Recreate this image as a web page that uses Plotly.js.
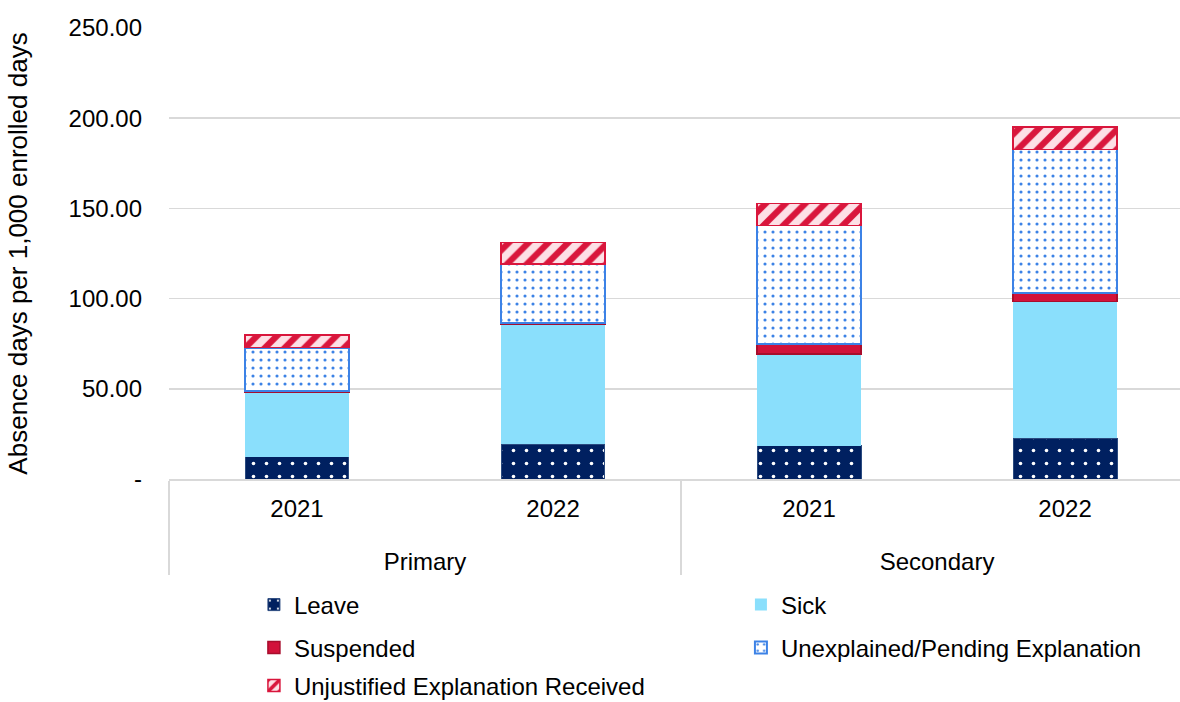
<!DOCTYPE html>
<html>
<head>
<meta charset="utf-8">
<script src="https://cdn.plot.ly/plotly-3.0.1.min.js"></script>
<style>html,body{margin:0;padding:0;background:#fff;}#chart{width:1180px;height:702px;}</style>
</head>
<body>
<div id="chart"></div>
<script>
// Data
const schoolLevels = ['Primary', 'Primary', 'Secondary', 'Secondary'];
const years = ['2021', '2022', '2021', '2022'];
const leave = [12.4, 19.2, 18.3, 22.5];
const sick = [35.6, 66.6, 51.0, 75.8];
const suspended = [0.8, 0.7, 5.5, 5.0];
const unexplained = [24.0, 32.7, 65.8, 79.4];
const unjustified = [7.0, 11.8, 12.2, 12.3];
const yTickVals = [0, 50, 100, 150, 200, 250];
const yTickText = ['-', '50.00', '100.00', '150.00', '200.00', '250.00'];

const FONT = 'Liberation Sans, Arial, sans-serif';
// leading line break pushes the group labels one line lower, as in the reference
const x = [schoolLevels.map(s => '<br>' + s), years];

const traces = [
  {name: 'Leave', y: leave, legend: 'legend',
   marker: {color: '#002060', line: {color: '#2a4a7f', width: 1},
            pattern: {shape: '.', fgcolor: '#ffffff', bgcolor: '#002060', size: 13, solidity: 0.06}}},
  {name: 'Sick', y: sick, legend: 'legend',
   marker: {color: '#8ADFFC', line: {color: '#8ADFFC', width: 0}}},
  {name: 'Suspended', y: suspended, legend: 'legend2',
   marker: {color: '#D2123A', line: {color: '#A80D2C', width: 1.5}}},
  {name: 'Unexplained/Pending Explanation', y: unexplained, legend: 'legend2',
   marker: {color: '#3C82E6', line: {color: '#3C82E6', width: 2},
            pattern: {shape: '.', fgcolor: '#3C82E6', bgcolor: '#ffffff', size: 8, solidity: 0.12}}},
  {name: 'Unjustified Explanation Received', y: unjustified, legend: 'legend3',
   marker: {color: '#D9163C', line: {color: '#D9163C', width: 1.5},
            pattern: {shape: '/', fgcolor: '#D9163C', bgcolor: '#FDE0E6', size: 14, solidity: 0.45}}}
].map(t => Object.assign({type: 'bar', x: x, hoverinfo: 'y+name'}, t));

const legendBase = {
  orientation: 'h', traceorder: 'normal', xref: 'paper', yref: 'paper', x: 0.084, xanchor: 'left', yanchor: 'middle',
  entrywidth: 442, entrywidthmode: 'pixels', itemwidth: 30,
  font: {family: FONT, size: 24, color: '#000'}, bgcolor: 'rgba(0,0,0,0)'
};

const layout = {
  width: 1180, height: 702,
  paper_bgcolor: '#fff', plot_bgcolor: '#fff',
  barmode: 'stack', bargap: 0.594,
  margin: {l: 169, r: 0, t: 28, b: 223, autoexpand: false},
  font: {family: FONT, size: 24, color: '#000'},
  xaxis: {
    type: 'multicategory', range: [-0.5, 3.449],
    showline: true, linecolor: '#d9d9d9', linewidth: 1.5,
    showgrid: false, ticks: '', ticklabelstandoff: 8,
    showdividers: true, dividercolor: '#d9d9d9', dividerwidth: 1.5,
    tickfont: {family: FONT, size: 24, color: '#000'}
  },
  yaxis: {
    range: [0, 250], tickvals: yTickVals, ticktext: yTickText,
    showgrid: true, gridcolor: '#d9d9d9', gridwidth: 1.5,
    zeroline: false, showline: false, ticks: '', ticklabelstandoff: 26,
    tickfont: {family: FONT, size: 24, color: '#000'},
    title: {text: 'Absence days per 1,000 enrolled days', standoff: 33,
            font: {family: FONT, size: 26, color: '#000'}}
  },
  legend: Object.assign({}, legendBase, {y: (479 - 605) / 451}),
  legend2: Object.assign({}, legendBase, {y: (479 - 648) / 451}),
  legend3: Object.assign({}, legendBase, {y: (479 - 686) / 451}),
  showlegend: true
};

Plotly.newPlot('chart', traces, layout, {displayModeBar: false, staticPlot: true});
</script>
</body>
</html>
